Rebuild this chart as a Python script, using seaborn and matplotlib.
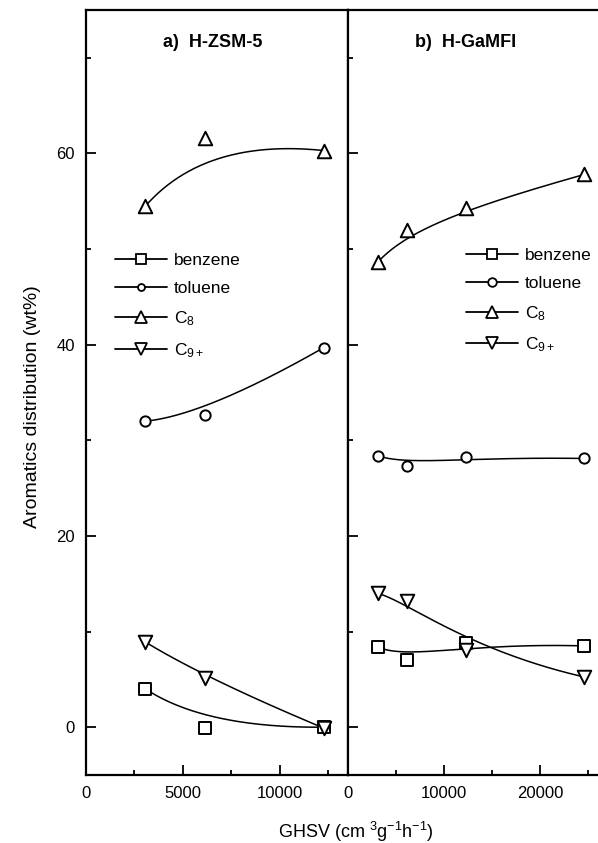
import numpy as np
import pandas as pd
import matplotlib
matplotlib.use("Agg")
import matplotlib.pyplot as plt
from matplotlib.lines import Line2D
from matplotlib.ticker import MultipleLocator
from math import comb
import seaborn as sns

sns.set_theme(style="ticks")
plt.rcParams["font.family"] = ["Liberation Sans", "DejaVu Sans"]
plt.rcParams["mathtext.fontset"] = "custom"
plt.rcParams["mathtext.rm"] = "Liberation Sans"
plt.rcParams["mathtext.it"] = "Liberation Sans:italic"
plt.rcParams["text.color"] = "black"
plt.rcParams["axes.labelcolor"] = "black"
plt.rcParams["xtick.color"] = "black"
plt.rcParams["ytick.color"] = "black"

# GHSV (cm3 g-1 h-1)
ghsv_zsm5 = [3070, 6140, 12280]
ghsv_gamfi = [3070, 6140, 12280, 24560]

# H-ZSM-5 aromatics distribution (wt%)
zsm5_benzene = [4.0, -0.1, 0.0]
zsm5_toluene = [32.0, 32.6, 39.7]
zsm5_c8 = [54.5, 61.6, 60.3]
zsm5_c9 = [8.9, 5.1, -0.1]

# H-GaMFI aromatics distribution (wt%)
gamfi_benzene = [8.4, 7.0, 8.85, 8.5]
gamfi_toluene = [28.4, 27.3, 28.3, 28.1]
gamfi_c8 = [48.6, 52.0, 54.3, 57.8]
gamfi_c9 = [14.0, 13.2, 8.1, 5.25]

series_names = ["benzene", "toluene", "C$_8$", "C$_{9+}$"]
series_markers = {"benzene": "s", "toluene": "o", "C$_8$": "^", "C$_{9+}$": "v"}
marker_sizes = {"benzene": 70, "toluene": 55, "C$_8$": 95, "C$_{9+}$": 95}


def bspline(xs, ys, n=200):
    """Bezier-type smoothing curve that uses the points as control points."""
    xs = np.asarray(xs, float)
    ys = np.asarray(ys, float)
    k = len(xs) - 1
    t = np.linspace(0, 1, n)
    basis = np.array([comb(k, i) * t**i * (1 - t) ** (k - i) for i in range(k + 1)])
    return basis.T @ xs, basis.T @ ys


def frame(x, values):
    rows = []
    for name, ys in zip(series_names, values):
        for xv, yv in zip(x, ys):
            rows.append({"GHSV": xv, "wt": yv, "series": name})
    return pd.DataFrame(rows)


fig = plt.figure(figsize=(5.98, 8.43), dpi=100)
W, H = 598, 843
bottom_px, top_px = 775, 10
axL = fig.add_axes([86 / W, (H - bottom_px) / H, (347.5 - 86) / W, (bottom_px - top_px) / H])
axR = fig.add_axes([348 / W, (H - bottom_px) / H, (W - 348) / W, (bottom_px - top_px) / H])

panels = [
    (axL, ghsv_zsm5, [zsm5_benzene, zsm5_toluene, zsm5_c8, zsm5_c9], (0, 13500), 5000, 2500),
    (axR, ghsv_gamfi, [gamfi_benzene, gamfi_toluene, gamfi_c8, gamfi_c9], (0, 26000), 10000, 5000),
]

for ax, x, values, xlim, major, minor in panels:
    for ys in values:
        cx, cy = bspline(x, ys)
        ax.plot(cx, cy, color="black", lw=1.1, zorder=2)
    df = frame(x, values)
    for name in series_names:
        sub = df[df["series"] == name]
        sns.scatterplot(data=sub, x="GHSV", y="wt", marker=series_markers[name],
                        s=marker_sizes[name], color="white", edgecolor="black",
                        linewidth=1.4, ax=ax, zorder=3, legend=False)
    ax.set_xlim(*xlim)
    ax.set_ylim(-5, 75)
    ax.xaxis.set_major_locator(MultipleLocator(major))
    ax.xaxis.set_minor_locator(MultipleLocator(minor))
    ax.yaxis.set_major_locator(MultipleLocator(20))
    ax.yaxis.set_minor_locator(MultipleLocator(10))
    ax.tick_params(which="major", direction="in", length=7.5, width=1.3, labelsize=12,
                   pad=8, top=False, right=False)
    ax.tick_params(which="minor", direction="in", length=3.5, width=1.3,
                   top=False, right=False)
    ax.set_xlabel("")
    ax.set_ylabel("")
    ax.set_facecolor("white")
    for sp in ax.spines.values():
        sp.set_linewidth(1.6)
        sp.set_color("black")

axL.set_xticks([0, 5000, 10000])
axL.set_xticklabels(["0", "5000", "10000"])
axR.set_xticks([0, 10000, 20000])
axR.set_xticklabels(["0", "10000", "20000"])
axR.tick_params(axis="y", labelleft=False)
axR.spines["right"].set_visible(False)

axL.text(0.485, 0.957, "a)  H-ZSM-5", transform=axL.transAxes, ha="center", va="center",
         fontsize=13, fontweight="bold")
axR.text(0.47, 0.957, "b)  H-GaMFI", transform=axR.transAxes, ha="center", va="center",
         fontsize=13, fontweight="bold")


def legend_handles(circle_size):
    sizes = {"benzene": 7, "toluene": circle_size, "C$_8$": 8, "C$_{9+}$": 8}
    return [Line2D([0], [0], color="black", lw=1.3, marker=series_markers[n],
                   markersize=sizes[n], markerfacecolor="white",
                   markeredgecolor="black", markeredgewidth=1.3, label=n)
            for n in series_names]


for ax, anchor, csize in [(axL, (0.111, 0.682), 5.0), (axR, (0.472, 0.689), 6.2)]:
    ax.legend(handles=legend_handles(csize), loc="upper left", bbox_to_anchor=anchor,
              frameon=False, fontsize=12.5, handlelength=3.0, handletextpad=0.4,
              labelspacing=0.74, borderpad=0, borderaxespad=0)

fig.text(33 / W, 1 - 407 / H, "Aromatics distribution (wt%)", rotation=90,
         ha="center", va="center", fontsize=14)
fig.text(356 / W, 1 - 832 / H, "GHSV (cm $^{3}$g$^{-1}$h$^{-1}$)", ha="center",
         va="center", fontsize=13)

fig.savefig("out.png", dpi=100, facecolor="white")
